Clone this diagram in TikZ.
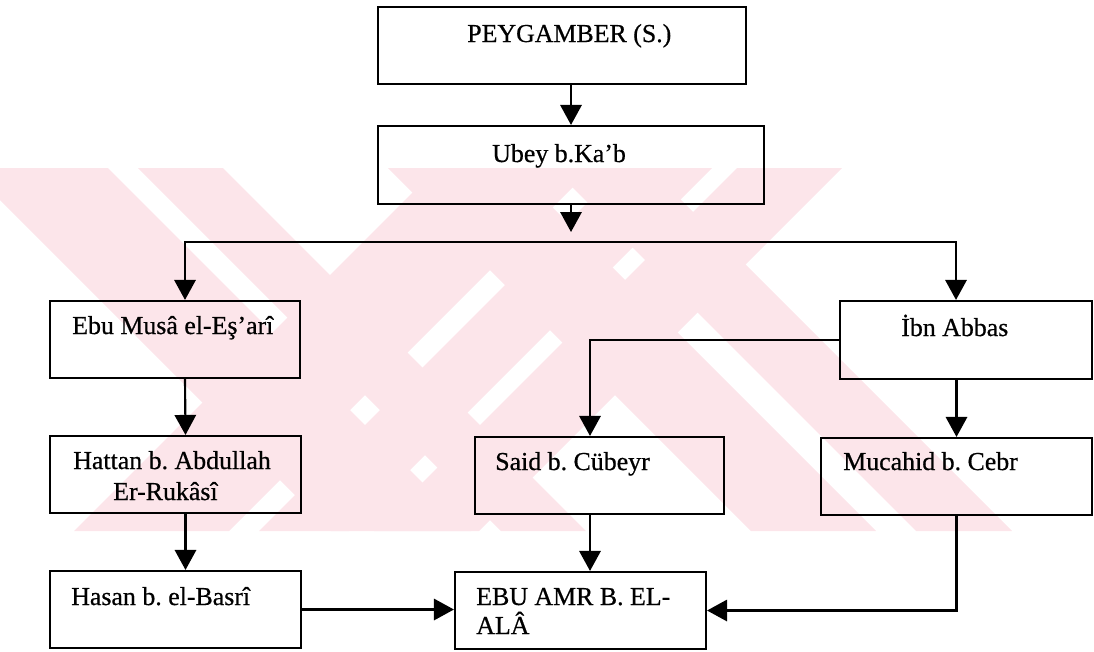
\documentclass[tikz,border=0pt]{standalone}
\usepackage{fontspec}
\setmainfont{Liberation Serif}[FakeBold=0.6]
\usetikzlibrary{arrows.meta,calc,fit}
\definecolor{wmark}{RGB}{252,229,234}
\begin{document}
\frenchspacing
\begin{tikzpicture}[x=0.75pt,y=-0.75pt,
  box/.style={draw,line width=1.6pt,inner sep=0pt},
  lbl/.style={anchor=base west,inner sep=0pt,font=\fontsize{19.4}{23}\selectfont},
  link/.style={line width=1.6pt},
  arr/.style={link,-{Triangle[length=15pt,width=16pt]}},
  band/.style={fill=wmark,draw=none}]
\useasboundingbox (0,0) rectangle (1094,651);

% pale striped background emblem
\begin{scope}
  \clip (0,168) rectangle (1012,531);
  % falling stripes, left
  \path[band] (-32,168) -- (108,168) -- (471,531) -- (331,531) -- cycle;
  \path[band] (138,168) -- (223,168) -- (586,531) -- (501,531) -- cycle;
  % rising stripes, middle
  \path[band] (437,168) -- (592,168) -- (229,531) -- (74,531) -- cycle;
  \path[band] (622,168) -- (712,168) -- (349,531) -- (259,531) -- cycle;
  \path[band] (737,168) -- (842,168) -- (479,531) -- (374,531) -- cycle;
  % falling stripes, right
  \path[band] (388,168) -- (513,168) -- (876,531) -- (751,531) -- cycle;
  \path[band] (553,168) -- (649,168) -- (1012,531) -- (916,531) -- cycle;
\end{scope}

% boxes
\node[box,fit={(378,7)(746,84)}]     (pey)   {};
\node[box,fit={(378,126)(764,204)}]  (ubey)  {};
\node[box,fit={(50,301)(300,378)}]   (ebu)   {};
\node[box,fit={(840,301)(1092,379)}] (ibn)   {};
\node[box,fit={(50,436)(301,513)}]   (hatt)  {};
\node[box,fit={(475,437)(724,514)}]  (said)  {};
\node[box,fit={(821,438)(1092,515)}] (muc)   {};
\node[box,fit={(50,571)(301,648)}]   (hasan) {};
\node[box,fit={(455,572)(706,649)}]  (amr)   {};

% labels
\node[lbl] (peyT)   at (467,42)  {PEYGAMBER (S.)};
\node[lbl] (ubeyT)  at (492,162) {Ubey b.Ka’b};
\node[lbl] (ebuT)   at (72,334)  {Ebu Musâ el-Eş’arî};
\node[lbl] (ibnT)   at (901,336) {İbn Abbas};
\node[lbl] (hattT)  at (73,469)  {Hattan b. Abdullah};
\node[lbl] (hattU)  at (113,500) {Er-Rukâsî};
\node[lbl] (saidT)  at (495,470) {Said b. Cübeyr};
\node[lbl] (mucT)   at (843,470) {Mucahid b. Cebr};
\node[lbl] (hasanT) at (71,605)  {Hasan b. el-Basrî};
\node[lbl] (amrT)   at (476,605) {EBU AMR B. EL-};
\node[lbl] (amrU)   at (476,634) {ALÂ};

% branching point below Ubey
\coordinate (tip)   at (571,232);
\coordinate (split) at (571,242);

% connectors
\draw[arr] (ubey.north |- pey.south) -- (ubey.north);
\draw[arr] (ubey.south) -- (tip);
\draw[arr] (split) -| ([xshift=7.5pt]ebu.north);
\draw[arr] (split) -| ([xshift=-7.5pt]ibn.north);
\draw[arr] (ibn.west) -| ([xshift=-7.125pt]said.north);
\draw[arr] (muc.north |- ibn.south) -- (muc.north);
\draw[arr] ([xshift=7.5pt]ebu.south) -- ([xshift=7.5pt]hatt.north);
\draw[arr] ([xshift=7.5pt]hatt.south) -- ([xshift=7.5pt]hasan.north);
\draw[arr] ([xshift=-7.125pt]said.south) -- ([xshift=-7.125pt]said.south |- amr.north);
\draw[arr] (hasan.east) -- (hasan.east -| amr.west);
\draw[arr] (muc.south) |- (amr.east);
\end{tikzpicture}
\end{document}
